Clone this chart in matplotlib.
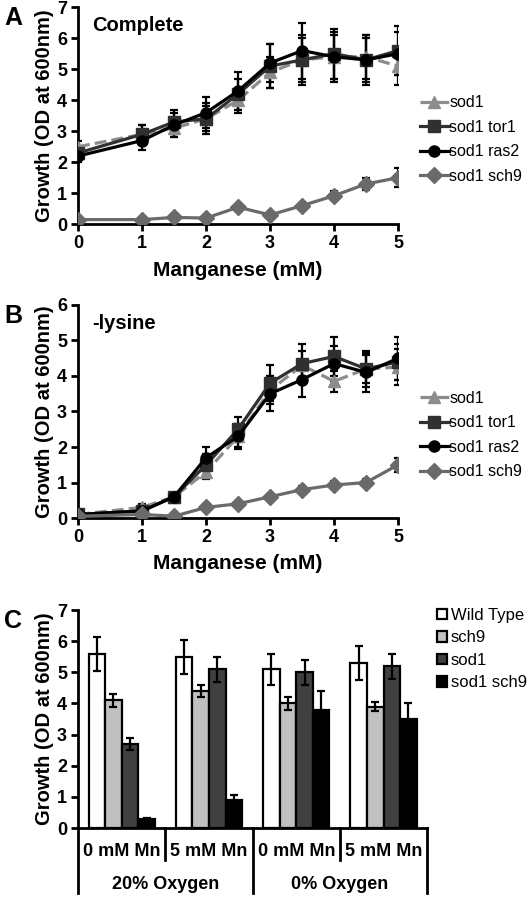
import numpy as np
import matplotlib.pyplot as plt
from matplotlib.transforms import blended_transform_factory

plt.rcParams['font.family'] = ['Liberation Sans', 'DejaVu Sans']

# --- Data ---
mn = [0, 1, 1.5, 2, 2.5, 3, 3.5, 4, 4.5, 5]
strains = ["sod1", "sod1 tor1", "sod1 ras2", "sod1 sch9"]

# panel A: complete medium
a_vals = [
    [2.5, 2.9, 3.1, 3.4, 4.0, 4.9, 5.3, 5.4, 5.4, 5.1],
    [2.3, 2.9, 3.3, 3.4, 4.2, 5.1, 5.3, 5.5, 5.3, 5.6],
    [2.2, 2.7, 3.2, 3.6, 4.3, 5.2, 5.6, 5.4, 5.3, 5.5],
    [0.15, 0.15, 0.22, 0.2, 0.55, 0.3, 0.6, 0.92, 1.3, 1.5],
]
a_err = [
    [0.2, 0.3, 0.3, 0.4, 0.4, 0.5, 0.7, 0.7, 0.7, 0.6],
    [0.2, 0.3, 0.4, 0.5, 0.5, 0.7, 0.8, 0.8, 0.8, 0.8],
    [0.2, 0.3, 0.4, 0.5, 0.6, 0.6, 0.9, 0.8, 0.7, 0.7],
    [0.05, 0.05, 0.05, 0.05, 0.05, 0.05, 0.1, 0.15, 0.2, 0.3],
]

# panel B: -lysine
b_vals = [
    [0.1, 0.3, 0.6, 1.3, 2.3, 3.6, 4.3, 3.85, 4.2, 4.25],
    [0.1, 0.2, 0.6, 1.5, 2.5, 3.8, 4.35, 4.55, 4.2, 4.4],
    [0.1, 0.2, 0.6, 1.7, 2.3, 3.5, 3.9, 4.35, 4.1, 4.5],
    [0.05, 0.1, 0.05, 0.3, 0.4, 0.6, 0.8, 0.93, 1.0, 1.5],
]
b_err = [
    [0.05, 0.1, 0.1, 0.2, 0.3, 0.4, 0.4, 0.3, 0.4, 0.5],
    [0.05, 0.1, 0.1, 0.3, 0.35, 0.5, 0.55, 0.55, 0.5, 0.5],
    [0.05, 0.1, 0.1, 0.3, 0.35, 0.5, 0.5, 0.5, 0.55, 0.6],
    [0.02, 0.02, 0.02, 0.05, 0.05, 0.05, 0.1, 0.1, 0.1, 0.2],
]

# panel C: bars
mn_groups = ["0 mM Mn", "5 mM Mn", "0 mM Mn", "5 mM Mn"]
oxygen_groups = ["20% Oxygen", "0% Oxygen"]
bar_strains = ["Wild Type", "sch9", "sod1", "sod1 sch9"]
c_vals = [
    [5.6, 5.5, 5.1, 5.3],
    [4.1, 4.4, 4.0, 3.9],
    [2.7, 5.1, 5.0, 5.2],
    [0.28, 0.9, 3.8, 3.5],
]
c_err = [
    [0.55, 0.55, 0.5, 0.55],
    [0.2, 0.2, 0.2, 0.15],
    [0.2, 0.4, 0.4, 0.4],
    [0.05, 0.15, 0.6, 0.5],
]

line_colors = ["#8c8c8c", "#303030", "#000000", "#6a6a6a"]
line_markers = ["^", "s", "o", "D"]
line_styles = ["--", "-", "-", "-"]
bar_colors = ["white", "#c0c0c0", "#404040", "#000000"]

W, H = 528, 897
fig = plt.figure(figsize=(W / 100, H / 100), dpi=100)


def frame(ax):
    for s in ["top", "right"]:
        ax.spines[s].set_visible(False)
    for s in ["left", "bottom"]:
        ax.spines[s].set_linewidth(2)
    ax.tick_params(width=2, length=5, labelsize=13, direction="out", pad=3)
    for lbl in ax.get_xticklabels() + ax.get_yticklabels():
        lbl.set_fontweight("bold")


def line_panel(rect, vals, errs, ymax, title, letter):
    ax = fig.add_axes(rect)
    for v, e, c, m, ls, name in zip(vals, errs, line_colors, line_markers, line_styles, strains):
        ax.errorbar(mn, v, yerr=e, fmt="none", ecolor="black", elinewidth=1.6,
                    capsize=3, capthick=1.6, zorder=2)
        ms = 9 if m == "^" else 8.5 if m == "D" else 8
        ax.plot(mn, v, color=c, linestyle=ls, linewidth=2.3, marker=m,
                markersize=ms, markeredgecolor=c, label=name, zorder=3)
    ax.set_xlim(0, 5)
    ax.set_ylim(0, ymax)
    ax.set_xticks([0, 1, 2, 3, 4, 5])
    ax.set_yticks(range(0, ymax + 1))
    ax.set_xlabel("Manganese (mM)", fontsize=15, fontweight="bold", labelpad=6)
    ax.set_ylabel("Growth (OD at 600nm)", fontsize=14.5, fontweight="bold", labelpad=2)
    ax.text(0.045, 0.915, title, transform=ax.transAxes, fontsize=14.5,
            fontweight="bold", va="center", ha="left")
    fig.text(0.008, rect[1] + rect[3] - 0.012, letter, fontsize=18,
             fontweight="bold", va="center")
    frame(ax)
    ax.legend(loc="center left", bbox_to_anchor=(1.068, 0.39), frameon=False,
              fontsize=11.5, handlelength=1.8, handletextpad=0.05,
              labelspacing=0.6, borderaxespad=0, borderpad=0)
    return ax


line_panel([0.148, 0.750, 0.606, 0.242], a_vals, a_err, 7, "Complete", "A")
line_panel([0.148, 0.4225, 0.606, 0.2375], b_vals, b_err, 6, "-lysine", "B")

# --- Panel C ---
axc = fig.add_axes([0.148, 0.0769, 0.661, 0.243])
x = np.arange(len(mn_groups))
bw = 0.19
for i, (v, e, c, name) in enumerate(zip(c_vals, c_err, bar_colors, bar_strains)):
    axc.bar(x + (i - 1.5) * bw, v, width=bw, color=c, edgecolor="black",
            linewidth=1.6, label=name, zorder=2)
    axc.errorbar(x + (i - 1.5) * bw, v, yerr=e, fmt="none", ecolor="black",
                 elinewidth=1.6, capsize=3, capthick=1.6, zorder=3)
axc.set_xlim(-0.5, 3.5)
axc.set_ylim(0, 7)
axc.set_yticks(range(0, 8))
axc.set_xticks([])
axc.set_ylabel("Growth (OD at 600nm)", fontsize=14.5, fontweight="bold", labelpad=2)
frame(axc)
fig.text(0.008, 0.0769 + 0.243 - 0.012, "C", fontsize=18, fontweight="bold", va="center")

# category axis lines and labels
tr = blended_transform_factory(axc.transData, axc.transAxes)
for b in [-0.5, 1.5, 3.5]:
    axc.plot([b, b], [0, -0.30], transform=tr, color="black", lw=2, clip_on=False)
for b in [0.5, 2.5]:
    axc.plot([b, b], [0, -0.147], transform=tr, color="black", lw=2, clip_on=False)
for xi, lab in zip(x, mn_groups):
    axc.text(xi, -0.11, lab, transform=tr, ha="center", va="center",
             fontsize=13, fontweight="bold")
for xi, lab in zip([0.5, 2.5], oxygen_groups):
    axc.text(xi, -0.26, lab, transform=tr, ha="center", va="center",
             fontsize=13, fontweight="bold")

axc.legend(loc="upper left", bbox_to_anchor=(1.01, 1.04), frameon=False,
           fontsize=12, handlelength=0.6, handleheight=0.6, handletextpad=0.2,
           labelspacing=0.45, borderaxespad=0)

plt.savefig("out.png", dpi=100)
